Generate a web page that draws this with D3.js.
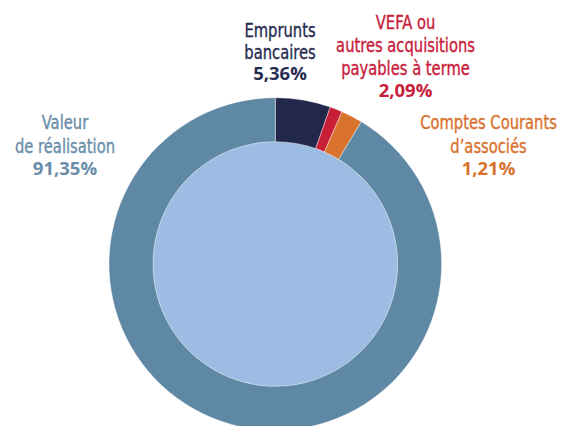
<!DOCTYPE html>
<html>
<head>
<meta charset="utf-8">
<script src="https://cdn.jsdelivr.net/npm/d3@7"></script>
<style>
  html, body { margin: 0; padding: 0; background: #ffffff; }
  svg { display: block; }
  .name { font-family: 'DejaVu Sans Condensed', 'DejaVu Sans', sans-serif; font-stretch: condensed; font-size: 19.5px; stroke-width: 0.35px; }
  .pct { font-family: 'Open Sans', 'DejaVu Sans', sans-serif; font-weight: 700; font-size: 18.5px; }
</style>
</head>
<body>
<svg id="chart" width="563" height="426"></svg>
<script>
// ---- data ----
const categories = ["Emprunts bancaires", "VEFA ou autres acquisitions payables à terme", "Comptes Courants d’associés", "Valeur de réalisation"];
// printed percentages (label text)
const labelValues = [5.36, 2.09, 1.21, 91.35];
// slice sizes as drawn in the reference ring (clockwise from 12 o'clock)
const sliceValues = [5.36, 1.21, 2.09, 91.35];
// label line breaks
const labelLines = [
  ["Emprunts", "bancaires"],
  ["VEFA ou", "autres acquisitions", "payables à terme"],
  ["Comptes Courants", "d’associés"],
  ["Valeur", "de réalisation"]
];

// ---- styles / layout ----
const sliceColors = ["#22284c", "#c81f37", "#d9722d", "#5f88a4"];
const textColors  = ["#272c50", "#c8203a", "#d8722e", "#6a8ea9"];
const cx = 275.3, cy = 264, rOuter = 166.3, rInner = 122.3;
const nameScaleX = 0.84;
const labelPos = [
  {x: 280,   y: 36.5, lh: 22.3},
  {x: 405.5, y: 29,   lh: 23},
  {x: 488.5, y: 129.3, lh: 23.5},
  {x: 65,    y: 129.3, lh: 23.5}
];

const svg = d3.select("#chart");

const pie = d3.pie().sort(null).value(d => d)(sliceValues);
const arc = d3.arc().innerRadius(rInner).outerRadius(rOuter);

const g = svg.append("g").attr("transform", `translate(${cx},${cy})`);

// inner filled disc
g.append("circle").attr("r", rInner).attr("fill", "#9cbce3");

g.selectAll("path.slice")
  .data(pie)
  .join("path")
  .attr("class", "slice")
  .attr("d", arc)
  .attr("fill", (d, i) => sliceColors[i])
  .attr("stroke", "#ffffff")
  .attr("stroke-width", 0.4);

// labels
const fmt = v => v.toFixed(2).replace(".", ",") + "%";
categories.forEach((c, i) => {
  const p = labelPos[i];
  const t = svg.append("g").attr("fill", textColors[i]).attr("text-anchor", "middle");
  labelLines[i].forEach((line, k) => {
    t.append("text").attr("class", "name")
      .attr("stroke", textColors[i])
      .attr("transform", `translate(${p.x},${p.y + k * p.lh}) scale(${nameScaleX},1)`)
      .text(line);
  });
  t.append("text").attr("class", "pct")
    .attr("x", p.x).attr("y", p.y + labelLines[i].length * p.lh - 1)
    .text(fmt(labelValues[i]));
});
</script>
</body>
</html>
